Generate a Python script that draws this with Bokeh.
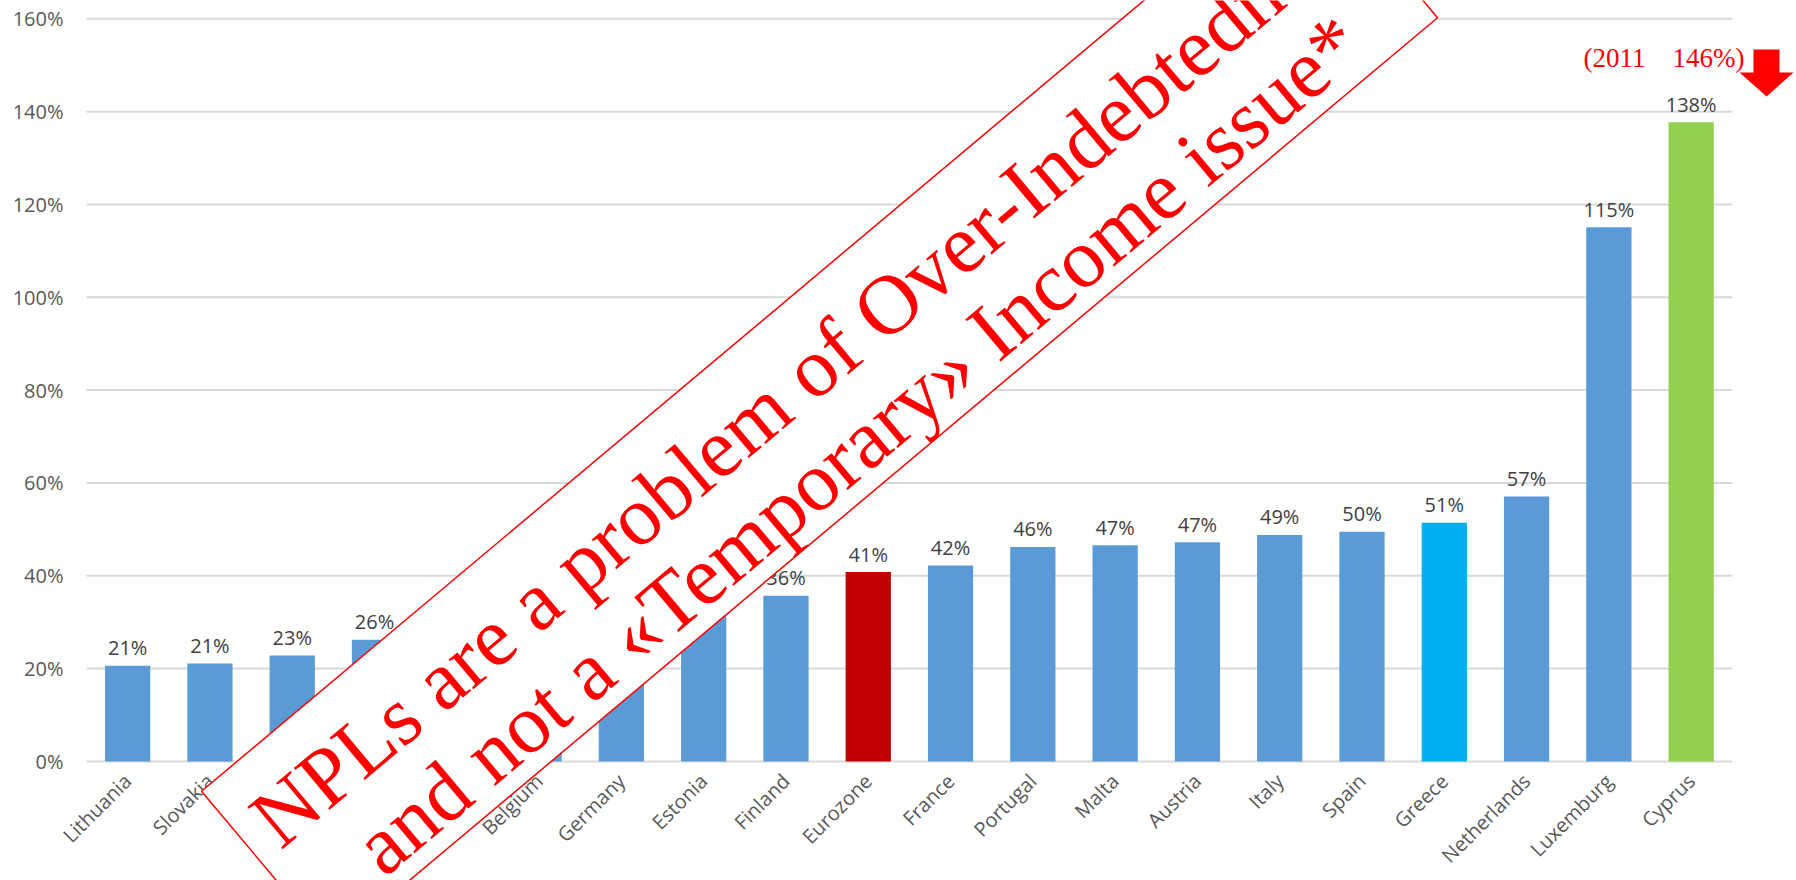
import math
from bokeh.plotting import figure
from bokeh.models import (Range1d, FixedTicker, PrintfTickFormatter,
                          ColumnDataSource, Label, PolyAnnotation)
from bokeh.core.properties import value
from bokeh.embed import file_html
from bokeh.resources import INLINE

# ---- data ----
countries = ["Lithuania", "Slovakia", "Latvia", "Slovenia", "Ireland", "Belgium",
             "Germany", "Estonia", "Finland", "Eurozone", "France", "Portugal",
             "Malta", "Austria", "Italy", "Spain", "Greece", "Netherlands",
             "Luxemburg", "Cyprus"]
values = [20.6, 21.1, 22.8, 26.2, 28.0, 30.0, 31.0, 33.0, 35.7, 40.8, 42.2, 46.2,
          46.6, 47.2, 48.8, 49.5, 51.4, 57.1, 115.1, 137.7]
y_ticks = [0, 20, 40, 60, 80, 100, 120, 140, 160]
highlight = {"Eurozone": "#C00000", "Greece": "#00B0F0", "Cyprus": "#92D050"}
base_color = "#5B9BD5"
banner_line1 = "NPLs are a problem of Over-Indebtedness"
banner_line2 = "and not a \u00abTemporary\u00bb Income issue*"
note_text = "(2011\u00a0\u00a0\u00a0\u00a0146%)"

# ---- layout (pixels) ----
W, H = 1796, 880
LEFT = 86            # left edge of the category area
CAT_W = 82.29        # pixels per category
Y0_PX = 760.9        # pixel row of 0 %
PX_PER_PCT = 4.641
N = len(countries)

x_lo = -LEFT / CAT_W
x_hi = (W - LEFT) / CAT_W
y_lo = -(H - Y0_PX) / PX_PER_PCT
y_hi = Y0_PX / PX_PER_PCT

xs = [i + 0.5 for i in range(N)]
colors = [highlight.get(c, base_color) for c in countries]
labels = ["%d%%" % round(v) for v in values]
src = ColumnDataSource(dict(x=xs, top=values, color=colors, label=labels))

p = figure(width=W, height=H, x_range=Range1d(x_lo, x_hi), y_range=Range1d(y_lo, y_hi),
           output_backend="svg", toolbar_location=None,
           min_border_left=0, min_border_right=0, min_border_top=0, min_border_bottom=0)
p.outline_line_color = None
p.background_fill_color = "white"
p.border_fill_color = "white"
p.xgrid.visible = False
p.ygrid.visible = False

# horizontal gridlines spanning the category area only
p.segment(x0=[0] * len(y_ticks), x1=[N] * len(y_ticks), y0=y_ticks, y1=y_ticks,
          line_color="#d9d9d9", line_width=2)

p.vbar(x="x", top="top", width=0.55, color="color", line_color=None, source=src)
p.text(x="x", y="top", text="label", source=src, text_align="center",
       text_baseline="alphabetic", y_offset=-18, text_font=value("Open Sans"),
       text_font_size="20px", text_color="#404040")

# y axis drawn at the left edge of the category area
p.yaxis.fixed_location = 0
p.yaxis.ticker = FixedTicker(ticks=y_ticks)
p.yaxis.formatter = PrintfTickFormatter(format="%d%%")
p.yaxis.axis_line_color = None
p.yaxis.major_tick_line_color = None
p.yaxis.minor_tick_line_color = None
p.yaxis.major_tick_out = 0
p.yaxis.minor_tick_out = 0
p.yaxis.major_label_text_font = "Open Sans"
p.yaxis.major_label_text_font_size = "20px"
p.yaxis.major_label_text_color = "#595959"
p.yaxis.major_label_standoff = 23

# x axis drawn at 0 %
p.xaxis.fixed_location = 0
p.xaxis.ticker = FixedTicker(ticks=xs)
p.xaxis.major_label_overrides = {x: c for x, c in zip(xs, countries)}
p.xaxis.axis_line_color = None
p.xaxis.major_tick_line_color = None
p.xaxis.minor_tick_line_color = None
p.xaxis.major_tick_out = 0
p.xaxis.minor_tick_out = 0
p.xaxis.major_label_orientation = math.pi / 4
p.xaxis.major_label_text_font = "Open Sans"
p.xaxis.major_label_text_font_size = "20px"
p.xaxis.major_label_text_color = "#595959"
p.xaxis.major_label_standoff = 16

# pixel -> data helpers for annotations
def dx(px):
    return (px - LEFT) / CAT_W

def dy(py):
    return (Y0_PX - py) / PX_PER_PCT

# banner
ang = math.radians(40)
d = (math.cos(ang), -math.sin(ang))
n = (math.sin(ang), math.cos(ang))
cx, cy = 819, 404
hl, hh = 722, 101

def pt(a, b):
    return (cx + a * d[0] + b * n[0], cy + a * d[1] + b * n[1])

corners = [pt(-hl, -hh), pt(hl, -hh), pt(hl, hh), pt(-hl, hh)]
p.add_layout(PolyAnnotation(xs=[dx(c[0]) for c in corners], ys=[dy(c[1]) for c in corners],
                            fill_color="white", fill_alpha=1.0,
                            line_color="#FF0000", line_alpha=1.0, line_width=1.5))
for txt, (a, b) in [(banner_line1, (10, -33)), (banner_line2, (4, 55))]:
    sx, sy = pt(a, b)
    p.add_layout(Label(x=dx(sx), y=dy(sy), text=txt, angle=40, angle_units="deg",
                       text_align="center", text_baseline="alphabetic",
                       text_font="Liberation Serif", text_font_size="84px",
                       text_color="#FF0000"))

# note and arrow at top right
p.add_layout(Label(x=dx(1583), y=dy(57), text=note_text, text_align="left",
                   text_baseline="alphabetic", text_font="Liberation Serif",
                   text_font_size="27px", text_color="#FF0000"))
arrow_px = [(1753, 49), (1779, 49), (1779, 72), (1793, 72), (1766, 96), (1739, 72), (1753, 72)]
p.add_layout(PolyAnnotation(xs=[dx(a) for a, b in arrow_px], ys=[dy(b) for a, b in arrow_px],
                            fill_color="#FF0000", fill_alpha=1.0, line_color=None))

open("out.html", "w").write(file_html(p, INLINE))
